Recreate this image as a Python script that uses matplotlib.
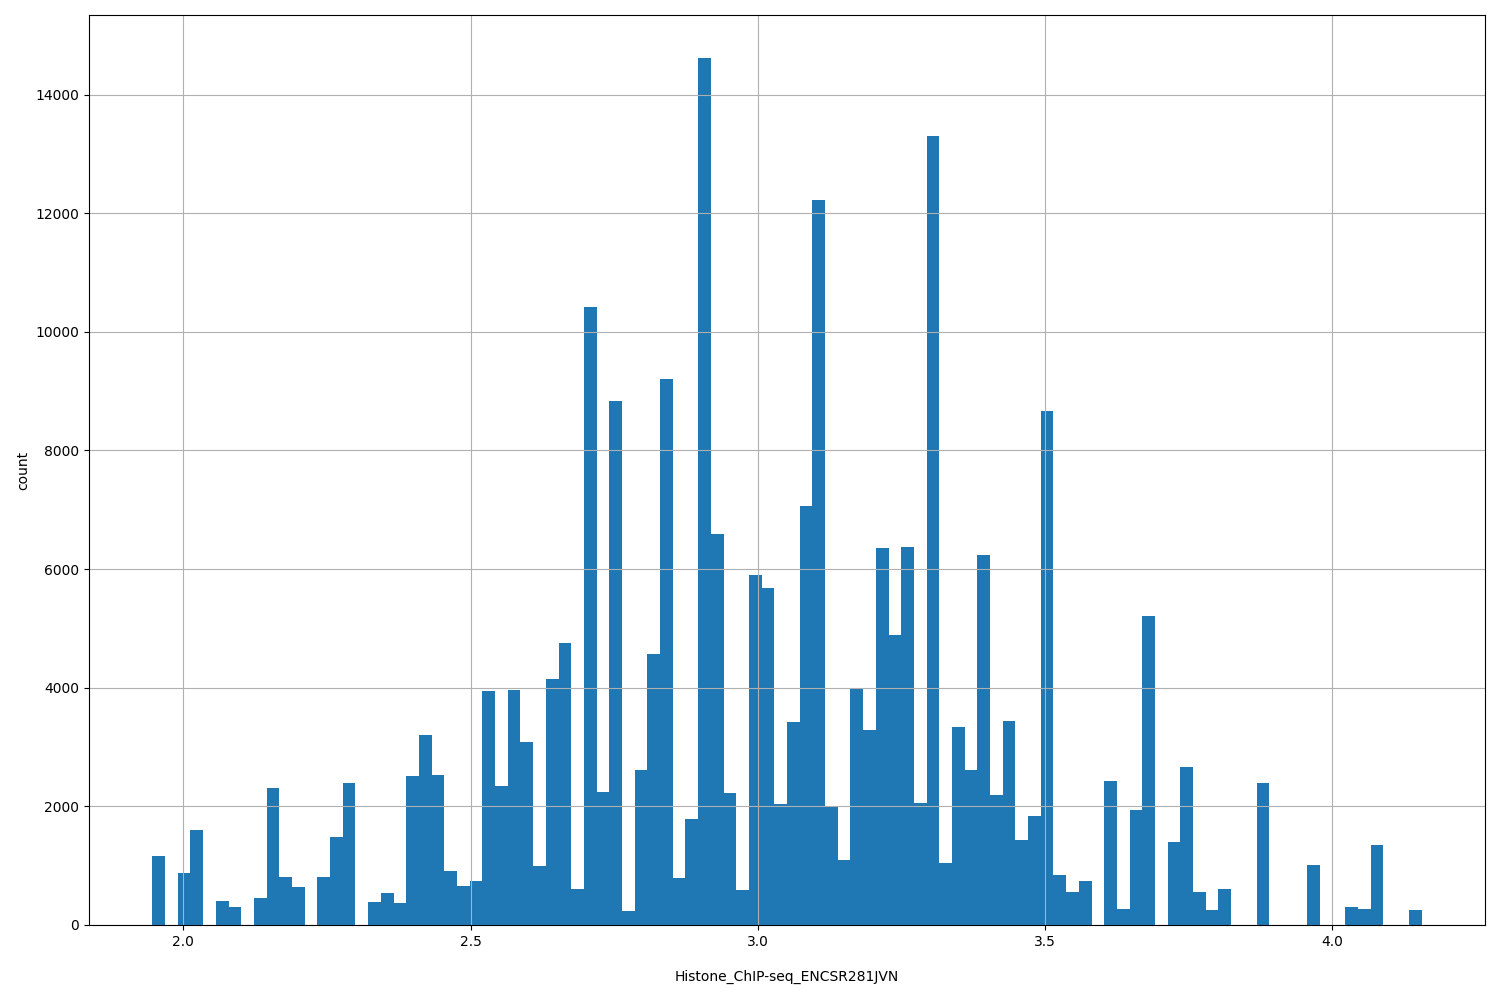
import numpy as np
import matplotlib
matplotlib.use("Agg")
import matplotlib.pyplot as plt

# histogram range and counts per bin (100 equal bins)
BIN_LO = 1.946
BIN_HI = 4.155

counts = [
    1170, 0, 880, 1600, 0, 410, 305, 0, 460, 2315,
    810, 640, 0, 810, 1480, 2395, 0, 390, 540, 375,
    2515, 3205, 2530, 910, 665, 740, 3940, 2340, 3960, 3090,
    1000, 4150, 4755, 608, 10420, 2238, 8840, 235, 2610, 4565,
    9210, 795, 1785, 14610, 6590, 2225, 595, 5900, 5685, 2045,
    3430, 7065, 12225, 1988, 1102, 3988, 3292, 6348, 4895, 6365,
    2060, 13300, 1038, 3330, 2615, 6240, 2195, 3436, 1432, 1836,
    8670, 848, 556, 746, 0, 2426, 262, 1938, 5205, 0,
    1405, 2665, 556, 256, 608, 0, 0, 2395, 0, 0,
    0, 1010, 0, 0, 302, 272, 1348, 0, 0, 256,
]

xlabel = "Histone_ChIP-seq_ENCSR281JVN"
ylabel = "count"

edges = np.linspace(BIN_LO, BIN_HI, len(counts) + 1)
centers = (edges[:-1] + edges[1:]) / 2

fig, ax = plt.subplots(figsize=(15, 10), dpi=100)
fig.subplots_adjust(left=0.0593, right=0.99, top=0.985, bottom=0.075)

ax.hist(centers, bins=edges, weights=counts, color="#1f77b4")
ax.grid(True)

ax.set_xlabel(xlabel, labelpad=15)
ax.set_ylabel(ylabel, labelpad=4)

plt.savefig("out.png", dpi=100)
plt.close()
